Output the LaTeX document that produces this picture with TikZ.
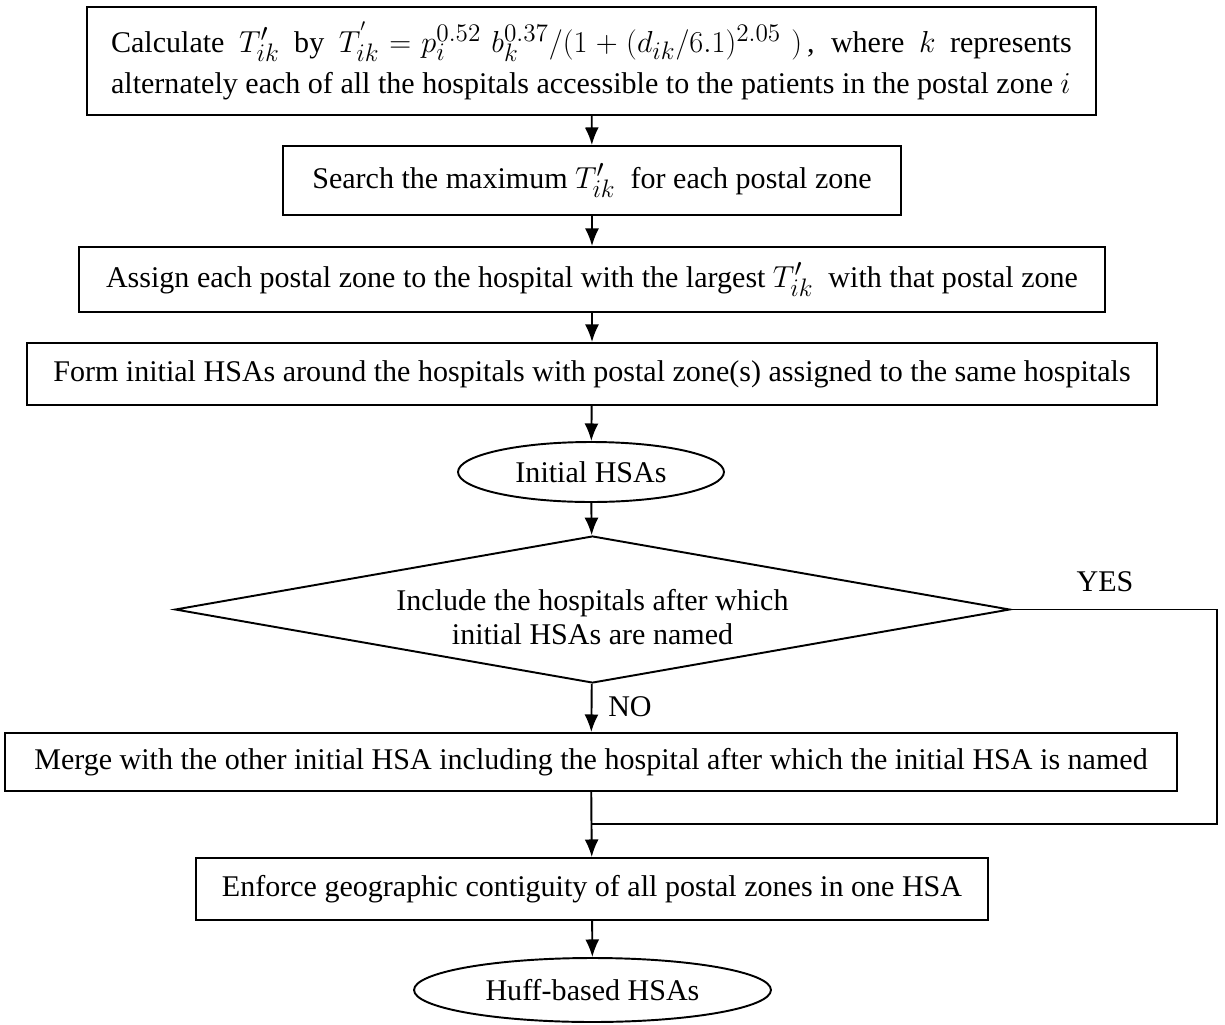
\documentclass[tikz,border=0pt]{standalone}
\usepackage{fontspec}
\setmainfont{Liberation Serif}
\usetikzlibrary{shapes.geometric,arrows.meta}
\DeclareMathSizes{17.1}{17.1}{14}{10}

\begin{document}
\begin{tikzpicture}[x=0.02cm,y=-0.02cm,
  every node/.style={font=\fontsize{17.1}{23.5}\selectfont},
  box/.style={draw,line width=1.1pt,rectangle,inner sep=0pt},
  oval/.style={draw,line width=1.1pt,ellipse,inner sep=0pt},
  choice/.style={draw,line width=1.1pt,diamond,aspect=5.68,inner sep=0pt,
    font=\fontsize{17.1}{19.5}\selectfont},
  flow/.style={line width=1.1pt,-{Latex[length=10pt,width=8pt]}}]
  \useasboundingbox (0,0) rectangle (1225,1025);
  % steps of the flow
  \node[box,minimum width=20.18cm,minimum height=2.16cm,text width=19.22cm,align=justify] (calc) at (591.5,61)
    {\thickmuskip=6mu\medmuskip=5mu
     Calculate $T'_{ik}$ by $T^{'}_{ik}=p_i^{0.52}\;b_k^{0.37}/(1+(d_{ik}/6.1)^{2.05}\;)$\,, where $k$ represents\linebreak
     alternately each of all the hospitals accessible to the patients in the postal zone $i$};
  \node[box,minimum width=12.36cm,minimum height=1.38cm] (search) at (592,180.5)
    {Search the maximum $T'_{ik}$\ \ for each postal zone};
  \node[box,minimum width=20.52cm,minimum height=1.3cm] (assign) at (592,279.5)
    {Assign each postal zone to the hospital with the largest $T'_{ik}$\ \ with that postal zone};
  \node[box,minimum width=22.6cm,minimum height=1.24cm] (form) at (592,374)
    {Form initial HSAs around the hospitals with postal zone(s) assigned to the same hospitals};
  \node[oval,minimum width=5.32cm,minimum height=1.2cm] (initial) at (591,472) {Initial HSAs};
  \node[choice,minimum width=16.7cm,minimum height=2.94cm,align=center] (include) at (592.5,609.5)
    {\rule{0pt}{21pt}Include the hospitals after which\\initial HSAs are named};
  \node[box,minimum width=23.44cm,minimum height=1.16cm] (merge) at (591,762)
    {Merge with the other initial HSA including the hospital after which the initial HSA is named};
  \node[box,minimum width=15.84cm,minimum height=1.24cm] (enforce) at (592,889)
    {Enforce geographic contiguity of all postal zones in one HSA};
  \node[oval,minimum width=7.14cm,minimum height=1.28cm] (huff) at (592.5,990) {Huff-based HSAs};
  % labels
  \node (yes) at (1105,582) {YES};
  \node (no) at (630,707) {NO};
  \coordinate (turn) at (1217,609.5);
  \coordinate (join) at (592,824);
  % connectors
  \draw[flow] (calc) -- (search);
  \draw[flow] (search) -- (assign);
  \draw[flow] (assign) -- (form);
  \draw[flow] (form) -- (initial);
  \draw[flow] (initial) -- (include);
  \draw[flow] (include) -- (merge);
  \draw[flow] (merge) -- (enforce);
  \draw[flow] (enforce) -- (huff);
  \draw[line width=1.1pt] (include.east) -- (turn) |- (join);
\end{tikzpicture}
\end{document}
